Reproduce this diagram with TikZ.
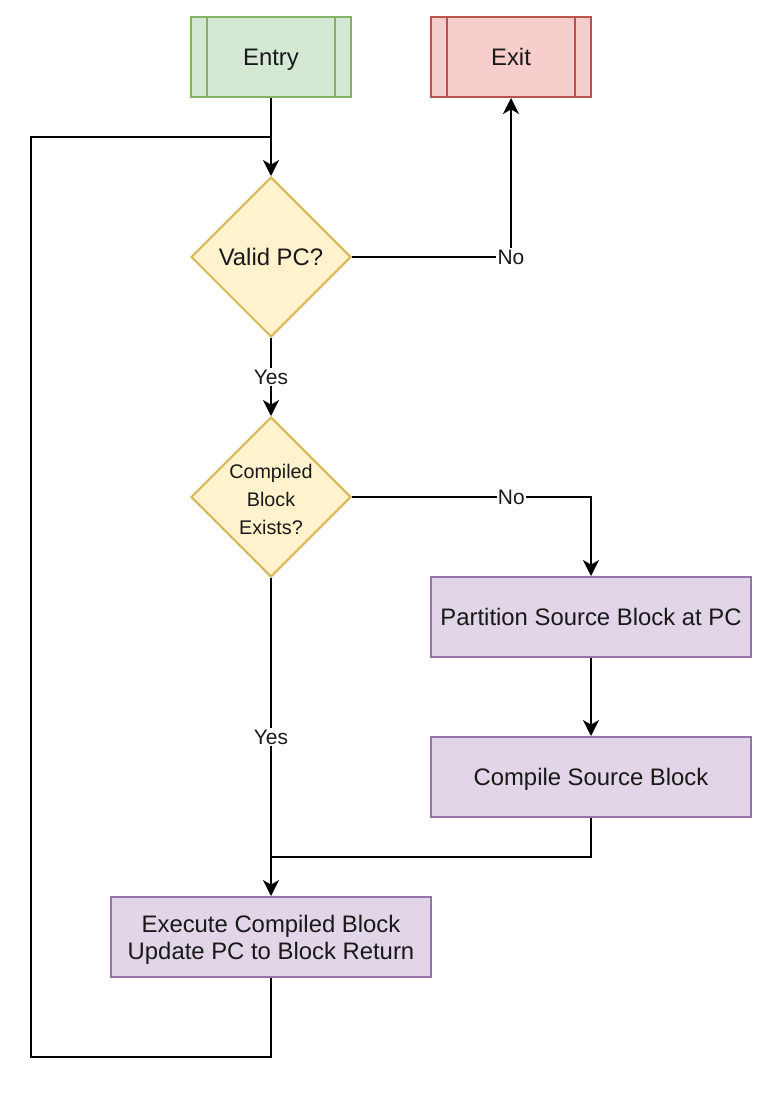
\documentclass[tikz,border=0pt]{standalone}
\usepackage{fontspec}
\setmainfont{Liberation Sans}
\usetikzlibrary{shapes.geometric,arrows.meta}
\definecolor{gfill}{HTML}{D5E8D4}\definecolor{gline}{HTML}{82B366}
\definecolor{rfill}{HTML}{F8CECC}\definecolor{rline}{HTML}{B85450}
\definecolor{yfill}{HTML}{FFF2CC}\definecolor{yline}{HTML}{D6B656}
\definecolor{pfill}{HTML}{E1D5E7}\definecolor{pline}{HTML}{9673A6}
\tikzset{
  base/.style={line width=1.5pt, inner sep=0pt, align=center, font=\fontsize{17.9}{20.25}\selectfont, text=black!90},
  proc/.style={base, rectangle, minimum width=120pt, minimum height=60pt, text height=12.8pt, text depth=0pt},
  termbox/.style={proc, path picture={
      \draw[line width=1.5pt] ([xshift=12pt]path picture bounding box.north west) -- ([xshift=12pt]path picture bounding box.south west);
      \draw[line width=1.5pt] ([xshift=-12pt]path picture bounding box.north east) -- ([xshift=-12pt]path picture bounding box.south east);}},
  dec/.style={base, diamond, minimum width=120pt, minimum height=120pt, fill=yfill, draw=yline},
  conn/.style={line width=1.5pt, black},
  arr/.style={conn, -{Stealth[length=12pt, width=12pt, inset=3.5pt]}},
  lab/.style={fill=white, inner sep=1pt, text=black!90, font=\fontsize{15.7}{18}\selectfont}
}
\begin{document}
\begin{tikzpicture}[x=0.75pt, y=-0.75pt]
\useasboundingbox (0,0) rectangle (776,1098);
\node[termbox, fill=gfill, draw=gline] (entry) at (271,57) {Entry};
\node[termbox, fill=rfill, draw=rline] (exit) at (511,57) {Exit};
\node[dec, label={[base, text=black!90]center:Valid PC?}] (valid) at (271,257) {};
\node[dec, label={[base, text=black!90, font=\fontsize{14.8}{21}\selectfont, yshift=-1.5pt]center:Compiled\\Block\\Exists?}] (cbe) at (271,497) {};
\node[proc, minimum width=240pt, fill=pfill, draw=pline] (part) at (591,617) {Partition Source Block at PC};
\node[proc, minimum width=240pt, fill=pfill, draw=pline] (comp) at (591,777) {Compile Source Block};
\node[proc, minimum width=240pt, fill=pfill, draw=pline, text height=33pt] (exec) at (271,937) {Execute Compiled Block\\Update PC to Block Return};
\coordinate (loopL) at (31,1057);
\coordinate (merge) at (271,137);
\coordinate (join) at (271,857);
\draw[arr] (entry.south) -- (valid.north);
\draw[conn] (exec.south) |- (loopL) |- (merge);
\draw[arr] (valid.east) -| node[lab, pos=0.5]{No} (exit.south);
\draw[arr] (valid.south) -- node[lab]{Yes} (cbe.north);
\draw[arr] (cbe.east) -| node[lab, pos=0.3333]{No} (part.north);
\draw[arr] (cbe.south) -- node[lab, pos=0.5]{Yes} (exec.north);
\draw[arr] (part.south) -- (comp.north);
\draw[conn] (comp.south) |- (join);
\end{tikzpicture}
\end{document}
